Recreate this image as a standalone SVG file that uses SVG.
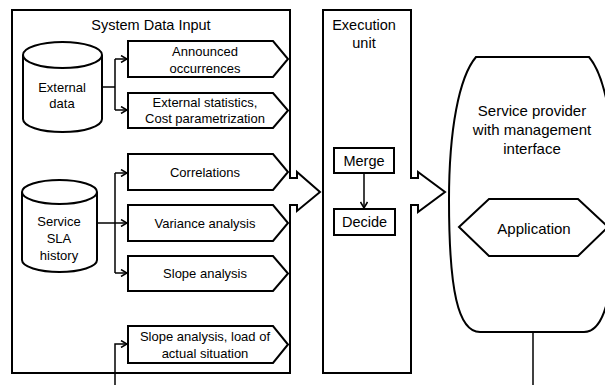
<svg xmlns="http://www.w3.org/2000/svg" width="605" height="385" viewBox="0 0 605 385">
<defs>
<style>
.s{fill:#fff;stroke:#000;stroke-width:2;stroke-linejoin:miter}
.c{fill:none;stroke:#000;stroke-width:1.5}
text{font-family:"Liberation Sans",Arial,sans-serif;fill:#000;text-anchor:middle;dominant-baseline:central}
.t13{font-size:13px}
.t14{font-size:14.5px}
.t15{font-size:15px}
</style>
<marker id="ah" markerWidth="8" markerHeight="8" refX="7" refY="4" orient="auto" markerUnits="userSpaceOnUse">
<path d="M1,0.5 L7,4 L1,7.5" fill="none" stroke="#000" stroke-width="1.5"/>
</marker>
</defs>
<rect width="605" height="385" fill="#fff"/>

<g id="system-data-input">
<path class="s" d="M12,10 H290 V178 H297 V172 L320,192 L297,211 V205 H290 V373 H12 Z"/>
<text class="t14" x="151" y="25">System Data Input</text>
</g>

<g id="external-data">
<path class="s" d="M23,55 V119 A39.5,13 0 0 0 102,119 V55"/>
<ellipse class="s" cx="62.5" cy="55" rx="39.5" ry="13"/>
<text class="t13" x="62" y="87">External</text>
<text class="t13" x="62" y="103">data</text>
</g>

<g id="service-sla-history">
<path class="s" d="M22,192 V260 A37.5,12 0 0 0 97,260 V192"/>
<ellipse class="s" cx="59.5" cy="192" rx="37.5" ry="12"/>
<text class="t13" x="59" y="221">Service</text>
<text class="t13" x="59" y="238">SLA</text>
<text class="t13" x="59" y="255">history</text>
</g>

<g id="announced-occurrences">
<path class="s" d="M128,41 H273 L288,59 L273,77 H128 Z"/>
<text class="t13" x="205" y="51">Announced</text>
<text class="t13" x="205" y="68">occurrences</text>
</g>

<g id="external-statistics">
<path class="s" d="M128,93 H273 L288,110.5 L273,128 H128 Z"/>
<text class="t13" x="205" y="102">External statistics,</text>
<text class="t13" x="205" y="118">Cost parametrization</text>
</g>

<g id="correlations">
<path class="s" d="M128,154 H273 L288,172 L273,190 H128 Z"/>
<text class="t13" x="205" y="172">Correlations</text>
</g>

<g id="variance-analysis">
<path class="s" d="M128,205 H273 L288,223 L273,241 H128 Z"/>
<text class="t13" x="205" y="223">Variance analysis</text>
</g>

<g id="slope-analysis">
<path class="s" d="M128,256 H273 L288,273.5 L273,291 H128 Z"/>
<text class="t13" x="205" y="273">Slope analysis</text>
</g>

<g id="slope-analysis-load">
<path class="s" d="M128,326 H273 L288,344.5 L273,363 H128 Z"/>
<text class="t13" x="205" y="336">Slope analysis, load of</text>
<text class="t13" x="205" y="353">actual situation</text>
</g>

<g id="execution-unit">
<path class="s" d="M323,10 H411 V178 H418 V172 L445,192 L418,212 V205 H411 V373 H323 Z"/>
<text class="t14" x="364" y="25">Execution</text>
<text class="t14" x="364" y="43">unit</text>
</g>

<g id="merge">
<rect class="s" x="334" y="148" width="60" height="25"/>
<text class="t14" x="364" y="161">Merge</text>
</g>

<g id="decide">
<rect class="s" x="334" y="209" width="61" height="26"/>
<text class="t14" x="364.5" y="222">Decide</text>
</g>

<g id="service-provider">
<path class="s" d="M476,57 H589 C606,77 615,130 615,200 C615,280 608,332 584,332 H480 C458,332 449,290 449,200 C449,130 459,77 476,57 Z"/>
<text class="t15" x="532" y="110">Service provider</text>
<text class="t15" x="532" y="129">with management</text>
<text class="t15" x="532" y="148">interface</text>
</g>

<g id="application">
<path class="s" d="M459,227 L489,199 H578 L608,227 L578,256 H489 Z"/>
<text class="t15" x="534" y="228">Application</text>
</g>

<g id="connectors">
<path class="c" d="M102,87 H115 M115,59 V110"/>
<path class="c" d="M115,59 H127" marker-end="url(#ah)"/>
<path class="c" d="M115,110 H127" marker-end="url(#ah)"/>
<path class="c" d="M97,223 H127" marker-end="url(#ah)"/>
<path class="c" d="M115,173 V273"/>
<path class="c" d="M115,173 H127" marker-end="url(#ah)"/>
<path class="c" d="M115,273 H127" marker-end="url(#ah)"/>
<path class="c" d="M115,385 V344 H127" marker-end="url(#ah)"/>
<path class="c" d="M364,173 V208" marker-end="url(#ah)"/>
<path class="c" d="M533,332 V385"/>
</g>
</svg>
